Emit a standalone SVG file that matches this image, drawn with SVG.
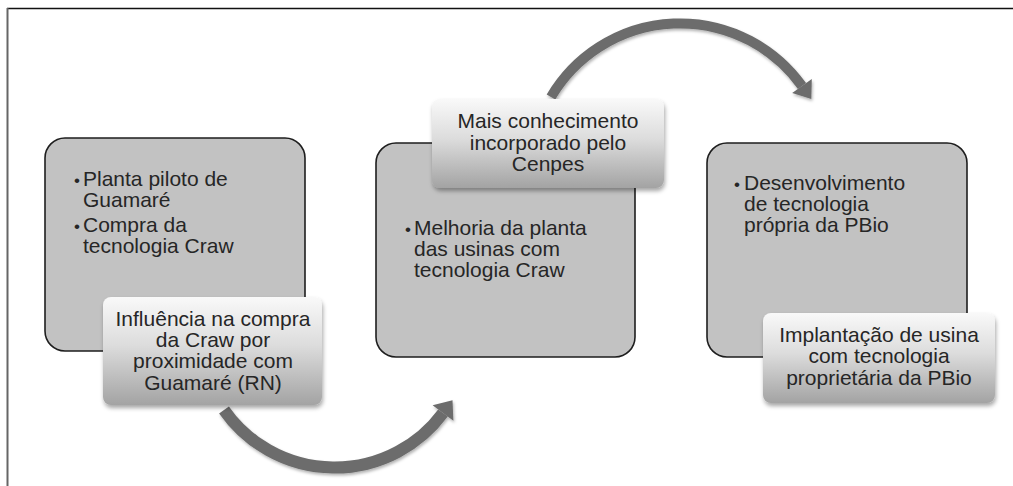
<svg xmlns="http://www.w3.org/2000/svg" width="1013" height="486" viewBox="0 0 1013 486">
<style>
.box{fill:#c2c2c2;stroke:#1e1e1e;stroke-width:1.6}
.sub{fill:url(#subGrad);filter:url(#sh)}
.t{font-family:"Liberation Sans",Arial,sans-serif;font-size:21px;fill:#262626}
.c{text-anchor:middle}
.b{font-family:"Liberation Sans",Arial,sans-serif;font-size:17px;fill:#262626;text-anchor:middle}
.arc{fill:none;stroke:#6c6c6c}
.head{fill:#6c6c6c}
</style>
<defs>
<linearGradient id="subGrad" x1="0" y1="0" x2="0" y2="1">
<stop offset="0" stop-color="#f9f9f9"/>
<stop offset="0.45" stop-color="#dcdcdc"/>
<stop offset="1" stop-color="#a3a3a3"/>
</linearGradient>
<filter id="sh" x="-10%" y="-10%" width="125%" height="135%">
<feDropShadow dx="1" dy="3" stdDeviation="2" flood-color="#000" flood-opacity="0.35"/>
</filter>
<filter id="ash" x="-10%" y="-20%" width="125%" height="150%">
<feDropShadow dx="1" dy="2" stdDeviation="1.5" flood-color="#000" flood-opacity="0.3"/>
</filter>
</defs>
<rect x="0" y="0" width="1013" height="486" fill="#ffffff"/>
<g id="frame">
<line x1="7" y1="8.5" x2="1013" y2="8.5" stroke="#111" stroke-width="1.6"/>
<line x1="7.5" y1="8" x2="7.5" y2="486" stroke="#666" stroke-width="2"/>
</g>
<g id="connectors">
<g filter="url(#ash)">
<path class="arc" stroke-width="10" d="M 551 97 A 150 150 0 0 1 802 86"/>
<polygon class="head" points="811.8,79 792.2,93 811.3,99"/>
</g>
<g filter="url(#ash)">
<path class="arc" stroke-width="12" d="M 224 410 A 135 135 0 0 0 443 413"/>
<polygon class="head" points="453.4,420.7 432.6,405.3 452.5,400.2"/>
</g>
</g>
<g id="node1">
<rect class="box" x="45" y="138" width="260" height="213" rx="20"/>
<text class="b" x="77" y="186">•</text>
<text class="t" x="83" y="186">Planta piloto de</text>
<text class="t" x="83" y="207">Guamaré</text>
<text class="b" x="77" y="232">•</text>
<text class="t" x="83" y="232">Compra da</text>
<text class="t" x="83" y="253">tecnologia Craw</text>
</g>
<g id="node1sub">
<rect class="sub" x="103" y="297" width="219" height="108" rx="8"/>
<text class="t c" x="213" y="326">Influência na compra</text>
<text class="t c" x="213" y="347">da Craw por</text>
<text class="t c" x="213" y="368">proximidade com</text>
<text class="t c" x="213" y="390">Guamaré (RN)</text>
</g>
<g id="node2">
<rect class="box" x="376" y="143" width="259" height="214" rx="20"/>
<text class="b" x="408" y="235">•</text>
<text class="t" x="414" y="235">Melhoria da planta</text>
<text class="t" x="414" y="256">das usinas com</text>
<text class="t" x="414" y="277">tecnologia Craw</text>
</g>
<g id="node2sub">
<rect class="sub" x="432" y="99" width="232" height="89" rx="8"/>
<text class="t c" x="548" y="128">Mais conhecimento</text>
<text class="t c" x="548" y="150">incorporado pelo</text>
<text class="t c" x="548" y="171">Cenpes</text>
</g>
<g id="node3">
<rect class="box" x="707" y="143" width="260" height="214" rx="20"/>
<text class="b" x="737" y="190">•</text>
<text class="t" x="744" y="190">Desenvolvimento</text>
<text class="t" x="744" y="211">de tecnologia</text>
<text class="t" x="744" y="232">própria da PBio</text>
</g>
<g id="node3sub">
<rect class="sub" x="763" y="313" width="232" height="90" rx="8"/>
<text class="t c" x="879" y="342">Implantação de usina</text>
<text class="t c" x="879" y="363">com tecnologia</text>
<text class="t c" x="879" y="385">proprietária da PBio</text>
</g>
</svg>
